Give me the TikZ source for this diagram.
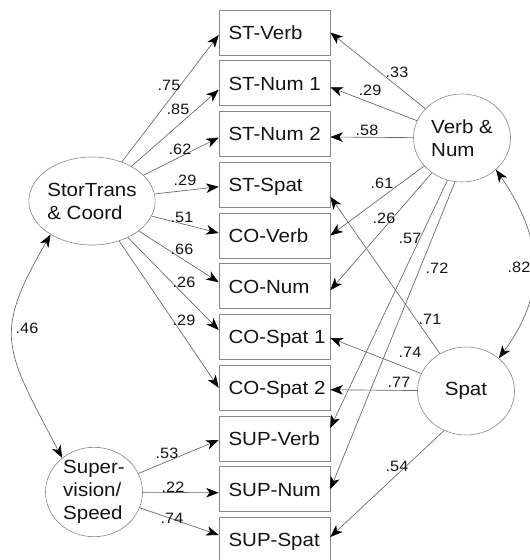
\documentclass[tikz,border=0pt]{standalone}
\usepackage{fontspec}
\setmainfont[FakeStretch=1.08]{Liberation Sans}
\usetikzlibrary{arrows.meta,shapes.geometric}

\definecolor{linegray}{RGB}{100,100,100}
\definecolor{framegray}{RGB}{135,135,135}
\definecolor{inkcol}{RGB}{20,20,20}

% fixed-width label so indicator names never wrap
\newcommand\obslabel[1]{\makebox[92pt][l]{#1}}

\begin{document}
\begin{tikzpicture}[x=1pt,y=-1pt,
  tip/.style={Stealth[length=12.5pt,width=9.5pt,inset=3.5pt,color=black]},
  obs/.style={draw=framegray, line width=0.6pt, minimum height=45pt,
    inner xsep=9.5pt, inner ysep=0pt, text height=13.6pt, text depth=0pt,
    text=inkcol, font=\fontsize{19}{23}\selectfont},
  lat/.style={ellipse, draw=framegray, line width=0.6pt,
    minimum width=97pt, minimum height=88pt, inner sep=0pt,
    align=left, text=inkcol, font=\fontsize{19}{23}\selectfont},
  coef/.style={inner sep=0pt, text=inkcol, font=\fontsize{15}{16}\selectfont},
  edge/.style={draw=linegray, line width=0.65pt, -{Stealth[length=12.5pt,width=9.5pt,inset=3.5pt,color=black]}},
  dbl/.style={draw=linegray, line width=0.65pt,
    {Stealth[length=12.5pt,width=9.5pt,inset=3.5pt,color=black]}-{Stealth[length=12.5pt,width=9.5pt,inset=3.5pt,color=black]}}
]
\useasboundingbox (0,0) rectangle (530,560);

% observed indicators
\node[obs] (stv)  at (274.5,32.5)  {\obslabel{ST-Verb}};
\node[obs] (stn1) at (274.5,83.25) {\obslabel{ST-Num 1}};
\node[obs] (stn2) at (274.5,134)   {\obslabel{ST-Num 2}};
\node[obs] (sts)  at (274.5,184.75){\obslabel{ST-Spat}};
\node[obs] (cov)  at (274.5,235.5) {\obslabel{CO-Verb}};
\node[obs] (con)  at (274.5,286.25){\obslabel{CO-Num}};
\node[obs] (cos1) at (274.5,337)   {\obslabel{CO-Spat 1}};
\node[obs] (cos2) at (274.5,387.75){\obslabel{CO-Spat 2}};
\node[obs] (supv) at (274.5,438.5) {\obslabel{SUP-Verb}};
\node[obs] (supn) at (274.5,489.25){\obslabel{SUP-Num}};
\node[obs] (sups) at (274.5,540)   {\obslabel{SUP-Spat}};

% latent factors
\node[lat] (stc)  at (92,201)  {StorTrans\\\& Coord};
\node[lat] (vn)   at (462,138) {Verb \&\\Num};
\node[lat] (spat) at (466,391) {Spat};
\node[lat] (sup)  at (94,492)  {Super-\\vision/\\Speed};

% StorTrans & Coord loadings
\draw[edge] (stc) -- ([yshift=-2.5pt]stv.west);
\draw[edge] (stc) -- ([yshift=-6.5pt]stn1.west);
\draw[edge] (stc) -- ([yshift=-3.5pt]stn2.west);
\draw[edge] (stc) -- ([yshift=-2pt]sts.west);
\draw[edge] (stc) -- ([yshift=2.5pt]cov.west);
\draw[edge] (stc) -- ([yshift=4pt]con.west);
\draw[edge] (stc) -- ([yshift=7pt]cos1.west);
\draw[edge] (stc) -- (cos2.west);

% Verb & Num loadings
\draw[edge] (vn) -- (stv.east);
\draw[edge] (vn) -- ([yshift=-4pt]stn1.east);
\draw[edge] (vn) -- ([yshift=-3pt]stn2.east);
\draw[edge] (vn) -- (cov.east);
\draw[edge] (vn) -- ([yshift=-4pt]con.east);
\draw[edge] (vn.-109) -- ([yshift=10.5pt]supv.east);
\draw[edge] (vn.-99) -- (supn.east);

% Spat loadings
\draw[edge] (spat) -- ([yshift=-12pt]sts.east);
\draw[edge] (spat) -- ([yshift=-1pt]cos1.east);
\draw[edge] (spat) -- ([yshift=-2pt]cos2.east);
\draw[edge] (spat.-119) -- ([yshift=3pt]sups.east);

% Supervision / Speed loadings
\draw[edge] (sup) -- ([yshift=-1.5pt]supv.west);
\draw[edge] (sup) -- ([yshift=-3.5pt]supn.west);
\draw[edge] (sup) -- ([yshift=5pt]sups.west);

% factor correlations
\draw[dbl] (stc.-141) .. controls +(-58,100) and +(-58,-110) .. (sup.133);
\draw[dbl] (vn.-43) .. controls +(48,70) and +(48,-65) .. (spat.45);

% coefficients
\node[coef] (c1)  at (169,85)  {.75};
\node[coef] (c2)  at (178,109) {.85};
\node[coef] (c3)  at (180,149) {.62};
\node[coef] (c4)  at (185,180) {.29};
\node[coef] (c5)  at (182,217) {.51};
\node[coef] (c6)  at (182,249) {.66};
\node[coef] (c7)  at (184,282) {.26};
\node[coef] (c8)  at (184,320) {.29};

\node[coef] (c9)  at (397,72)  {.33};
\node[coef] (c10) at (370,90)  {.29};
\node[coef] (c11) at (367,130) {.58};
\node[coef] (c12) at (382,183) {.61};
\node[coef] (c13) at (384,218) {.26};
\node[coef] (c14) at (410,238) {.57};
\node[coef] (c15) at (437,268) {.72};
\node[coef] (c16) at (519,267) {.82};

\node[coef] (c17) at (430,319) {.71};
\node[coef] (c18) at (410,352) {.74};
\node[coef] (c19) at (399,382) {.77};
\node[coef] (c20) at (397,466) {.54};

\node[coef] (c21) at (167,453) {.53};
\node[coef] (c22) at (173,487) {.22};
\node[coef] (c23) at (172,518) {.74};

\node[coef] (c24) at (27,328)  {.46};
\end{tikzpicture}
\end{document}
